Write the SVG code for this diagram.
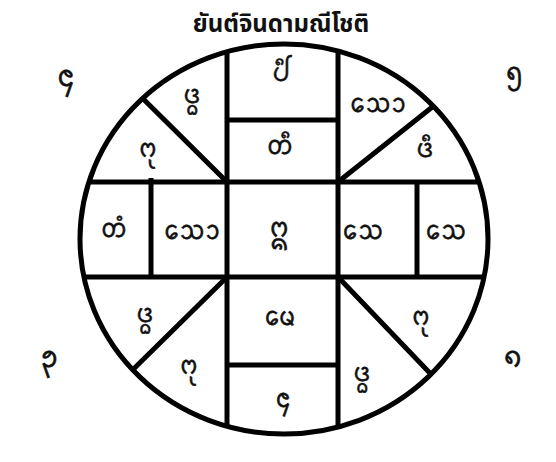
<svg xmlns="http://www.w3.org/2000/svg" width="556" height="462" viewBox="0 0 556 462">
<style>
.ln{stroke:#000;stroke-width:5;fill:none}
.tt{font-family:"Noto Sans Tai Tham","Noto Sans",sans-serif;font-size:26px;fill:#111;stroke:#111;stroke-width:0.5;text-anchor:middle;dominant-baseline:central}
.cn{font-size:30px}
.title{font-family:"Noto Sans Thai","Noto Sans","DejaVu Sans",sans-serif;font-size:24px;font-weight:bold;fill:#111;text-anchor:middle}
</style>
<defs><clipPath id="c"><ellipse cx="284" cy="239" rx="204" ry="195"/></clipPath></defs>
<rect width="556" height="462" fill="#fff"/>
<text id="title" class="title" x="281" y="32">ยันต์จินดามณีโชติ</text>
<g id="connectors" class="ln">
<g clip-path="url(#c)">
<path d="M0 182H556M0 277H556M227 0V462M338 0V462M151 178V277M417 182V277M227 120H338M227 365H338"/>
<path d="M227 182L100 56M338 182L470 77M227 277L100 402M338 277L470 415"/>
</g>
<ellipse cx="284" cy="239" rx="204" ry="195"/>
</g>
<g id="cell-top"><text class="tt" x="281" y="74">ᨸᩥ</text></g>
<g id="cell-top2"><text class="tt" x="280" y="147">ᨲᩥ</text></g>
<g id="cell-center"><text class="tt" x="279" y="229" style="font-size:28px">ᩍ</text></g>
<g id="cell-left-outer"><text class="tt" x="114" y="230">ᨲᩴ</text></g>
<g id="cell-left-inner"><text class="tt" x="192" y="232">ᩈᩮᩣ</text></g>
<g id="cell-right-inner"><text class="tt" x="363" y="232">ᩈᩮ</text></g>
<g id="cell-right-outer"><text class="tt" x="446" y="232">ᩈᩮ</text></g>
<g id="tri-nw-upper"><text class="tt" x="192" y="96">ᨴ᩠ᨵ</text></g>
<g id="tri-nw-lower"><text class="tt" x="148" y="150">ᨻᩩ</text></g>
<g id="tri-ne-upper"><text class="tt" x="378" y="105">ᩈᩮᩣ</text></g>
<g id="tri-ne-lower"><text class="tt" x="425" y="150">ᨴᩥ</text></g>
<g id="tri-sw-upper"><text class="tt" x="145" y="315">ᨴ᩠ᨵ</text></g>
<g id="tri-sw-lower"><text class="tt" x="189" y="367">ᨻᩩ</text></g>
<g id="tri-se-upper"><text class="tt" x="421" y="318">ᨻᩩ</text></g>
<g id="tri-se-lower"><text class="tt" x="362" y="374">ᨴ᩠ᨵ</text></g>
<g id="cell-bottom1"><text class="tt" x="280" y="318">ᨾᩮ</text></g>
<g id="cell-bottom2"><text class="tt" x="283" y="400">᪄</text></g>
<g id="corner-nw"><text class="tt cn" x="66" y="78">᪄</text></g>
<g id="corner-ne"><text class="tt cn" x="514" y="75">᪅</text></g>
<g id="corner-sw"><text class="tt cn" x="49" y="359">᪃</text></g>
<g id="corner-se"><text class="tt cn" x="513" y="359">᪈</text></g>
</svg>
